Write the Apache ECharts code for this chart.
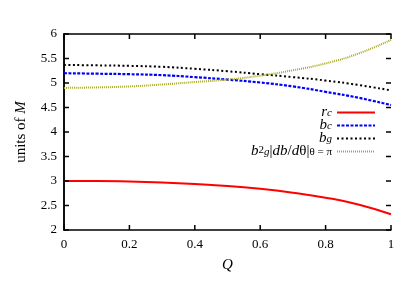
<!DOCTYPE html>
<html>
<head>
<meta charset="utf-8">
<script src="https://cdn.jsdelivr.net/npm/echarts@6/dist/echarts.min.js"></script>
<style>html,body{margin:0;padding:0;background:#fff}#c{width:415px;height:290px}</style>
</head>
<body>
<div id="c"></div>
<script>
var Q = [0, 0.1, 0.2, 0.3, 0.4, 0.5, 0.6, 0.7, 0.8, 0.9, 1.0];
var rc = [3.00, 3.00, 2.99, 2.97, 2.94, 2.90, 2.84, 2.76, 2.66, 2.52, 2.32];
var bc = [5.20, 5.19, 5.18, 5.16, 5.12, 5.07, 5.01, 4.93, 4.82, 4.70, 4.55];
var bg = [5.37, 5.36, 5.35, 5.33, 5.29, 5.24, 5.18, 5.12, 5.05, 4.96, 4.85];
var bgd = [4.90, 4.91, 4.93, 4.97, 5.02, 5.07, 5.15, 5.26, 5.40, 5.60, 5.88];
var xTicks = [0, 0.2, 0.4, 0.6, 0.8, 1];
var yTicks = [2, 2.5, 3, 3.5, 4, 4.5, 5, 5.5, 6];

function pairs(ys) { return Q.map(function (q, i) { return [q, ys[i]]; }); }

var serif = '"Liberation Serif", "DejaVu Serif", serif';
var rich = {
  i: { fontFamily: serif, fontStyle: 'italic', fontSize: 15, lineHeight: 13, color: '#000' },
  n: { fontFamily: serif, fontSize: 15, lineHeight: 13, color: '#000' },
  sub: { fontFamily: serif, fontStyle: 'italic', fontSize: 11, lineHeight: 5, verticalAlign: 'bottom', color: '#000' },
  subn: { fontFamily: serif, fontSize: 11, lineHeight: 5, verticalAlign: 'bottom', color: '#000' },
  sup: { fontFamily: serif, fontSize: 11, lineHeight: 3, verticalAlign: 'top', color: '#000' }
};
var labels = {
  rc: '{i|r}{sub|c}',
  bc: '{i|b}{sub|c}',
  bg: '{i|b}{sub|g}',
  bgd: '{i|b}{sup|2}{sub|g}{n||}{i|db}{n|/}{i|d}{n|θ|}{subn|θ = π}'
};

var chart = echarts.init(document.getElementById('c'));
function axisLine() { return { show: true, lineStyle: { color: '#000', width: 1.5 } }; }
var labStyle = { fontFamily: serif, fontSize: 13, color: '#000' };
var TICK = 5;
var tickStyle = { stroke: '#000', lineWidth: 1.5 };

var xMin = xTicks[0], xMax = xTicks[xTicks.length - 1];
var yMin = yTicks[0], yMax = yTicks[yTicks.length - 1];

chart.setOption({
  animation: false,
  grid: { left: 64, right: 24, top: 34, bottom: 60 },
  legend: {
    orient: 'vertical', align: 'right', right: 34, top: 100,
    itemWidth: 38, itemHeight: 13, itemGap: -2,
    data: ['rc', 'bc', 'bg', 'bgd'],
    itemStyle: { opacity: 0 },
    formatter: function (n) { return labels[n]; },
    textStyle: { rich: rich, fontFamily: serif, fontSize: 15, lineHeight: 13 }
  },
  xAxis: [{
    type: 'value', min: xMin, max: xMax, interval: 0.2,
    name: 'Q', nameLocation: 'middle', nameGap: 28,
    nameTextStyle: { fontFamily: serif, fontStyle: 'italic', fontSize: 15, color: '#000' },
    axisLine: axisLine(), axisTick: { show: false }, splitLine: { show: false },
    axisLabel: Object.assign({ margin: 8, formatter: function (v) { return String(+v.toFixed(1)); } }, labStyle)
  }, {
    type: 'value', min: xMin, max: xMax, interval: 0.2, position: 'top',
    axisLine: axisLine(), axisTick: { show: false }, splitLine: { show: false }, axisLabel: { show: false }
  }],
  yAxis: [{
    type: 'value', min: yMin, max: yMax, interval: 0.5,
    name: '{n|units of }{i|M}', nameLocation: 'middle', nameGap: 36,
    nameTextStyle: { rich: rich },
    axisLine: axisLine(), axisTick: { show: false }, splitLine: { show: false },
    axisLabel: Object.assign({ margin: 7 }, labStyle)
  }, {
    type: 'value', min: yMin, max: yMax, interval: 0.5, position: 'right',
    axisLine: axisLine(), axisTick: { show: false }, splitLine: { show: false }, axisLabel: { show: false }
  }],
  series: [
    { name: 'rc', type: 'line', smooth: true, symbol: 'none', data: pairs(rc),
      lineStyle: { color: '#ff0000', width: 2 }, itemStyle: { color: '#ff0000' } },
    { name: 'bc', type: 'line', smooth: true, symbol: 'none', data: pairs(bc),
      lineStyle: { color: '#0000ff', width: 2.2, type: [3, 1.5] }, itemStyle: { color: '#0000ff' } },
    { name: 'bg', type: 'line', smooth: true, symbol: 'none', data: pairs(bg),
      lineStyle: { color: '#000000', width: 2, type: [2, 2.5] }, itemStyle: { color: '#000' } },
    { name: 'bgd', type: 'line', smooth: true, symbol: 'none', data: pairs(bgd),
      lineStyle: { color: '#a8a820', width: 2, type: [1, 1] }, itemStyle: { color: '#a8a820' } },
    { name: 'xticks', type: 'custom', silent: true, z: 5, clip: false,
      data: xTicks.map(function (v) { return [v, yMin]; }),
      renderItem: function (params, api) {
        var v = api.value(0);
        var b = api.coord([v, yMin]), t = api.coord([v, yMax]);
        return { type: 'group', children: [
          { type: 'line', shape: { x1: b[0], y1: b[1], x2: b[0], y2: b[1] - TICK }, style: tickStyle },
          { type: 'line', shape: { x1: t[0], y1: t[1], x2: t[0], y2: t[1] + TICK }, style: tickStyle }
        ] };
      } },
    { name: 'yticks', type: 'custom', silent: true, z: 5, clip: false,
      data: yTicks.map(function (v) { return [xMin, v]; }),
      renderItem: function (params, api) {
        var v = api.value(1);
        var l = api.coord([xMin, v]), r = api.coord([xMax, v]);
        return { type: 'group', children: [
          { type: 'line', shape: { x1: l[0], y1: l[1], x2: l[0] + TICK, y2: l[1] }, style: tickStyle },
          { type: 'line', shape: { x1: r[0], y1: r[1], x2: r[0] - TICK, y2: r[1] }, style: tickStyle }
        ] };
      } }
  ]
});
</script>
</body>
</html>
